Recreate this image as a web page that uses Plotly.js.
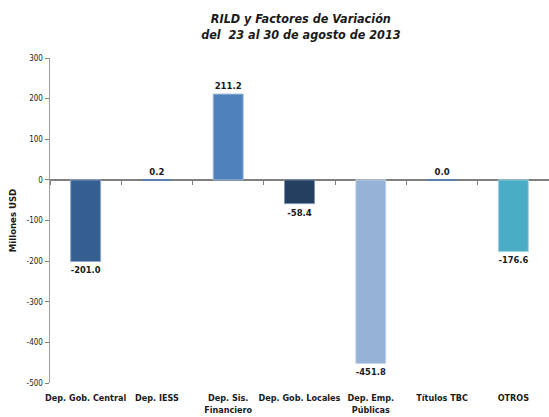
<!DOCTYPE html>
<html>
<head>
<meta charset="utf-8">
<script src="https://cdn.plot.ly/plotly-3.0.1.min.js"></script>
<style>html,body{margin:0;padding:0;background:#fff;}#chart{width:549px;height:417px;}</style>
</head>
<body>
<div id="chart"></div>
<script>
const categories = ["Dep. Gob. Central", "Dep. IESS", "Dep. Sis.<br>Financiero", "Dep. Gob. Locales", "Dep. Emp.<br>Públicas", "Títulos TBC", "OTROS"];
const values = [-201.0, 0.2, 211.2, -58.4, -451.8, 0.0, -176.6];
const valueLabels = ["-201.0", "0.2", "211.2", "-58.4", "-451.8", "0.0", "-176.6"];
const barColors = ["#365F91", "#4F81BD", "#4F81BD", "#243F60", "#95B3D7", "#4F81BD", "#4BACC6"];
const edgeColors = ["#8EA6C8", "#4F81BD", "#9DB8DC", "#7F93AE", "#C6D6EA", "#4F81BD", "#A4D4E2"];
const yTicks = [-500, -400, -300, -200, -100, 0, 100, 200, 300];

const fontFam = '"DejaVu Sans Condensed", "Liberation Sans Narrow", sans-serif';

const traces = [
  {
    type: "bar",
    x: categories,
    y: values,
    text: valueLabels,
    textposition: "outside",
    cliponaxis: false,
    textfont: {family: fontFam, size: 9.5, color: "#1a1a1a", weight: "bold"},
    marker: {color: barColors, line: {color: edgeColors, width: 1}},
    width: 0.42,
    hoverinfo: "skip",
    showlegend: false
  },
  {
    type: "scatter",
    mode: "markers",
    x: categories,
    y: values.map(() => null),
    xaxis: "x2",
    hoverinfo: "skip",
    showlegend: false
  }
];

const layout = {
  width: 549,
  height: 417,
  margin: {l: 50, r: 0, t: 58, b: 34},
  paper_bgcolor: "#ffffff",
  plot_bgcolor: "#ffffff",
  font: {family: fontFam, color: "#1a1a1a"},
  title: {
    text: "<b><i>RILD y Factores de Variación<br>del  23 al 30 de agosto de 2013</i></b>",
    x: 0.548, xanchor: "center", y: 0.945, yanchor: "top",
    font: {family: fontFam, size: 12.5, color: "#1a1a1a"}
  },
  xaxis: {
    type: "category",
    range: [-0.5, 6.5],
    showline: false,
    ticks: "",
    showgrid: false,
    zeroline: false,
    tickangle: 0,
    tickfont: {family: fontFam, size: 9, color: "#1a1a1a", weight: "bold"},
    ticklabelstandoff: 8
  },
  xaxis2: {
    type: "category",
    overlaying: "x",
    anchor: "free",
    position: 0.625,
    range: [-0.5, 6.5],
    showticklabels: false,
    tickson: "boundaries",
    ticks: "outside",
    ticklen: 4,
    tickcolor: "#808080",
    showline: false,
    showgrid: false,
    zeroline: false
  },
  yaxis: {
    range: [-500, 300],
    tickvals: yTicks,
    ticktext: yTicks.map(String),
    showline: true,
    linecolor: "#a0a0a0",
    linewidth: 1.5,
    ticks: "outside",
    ticklen: 4,
    tickcolor: "#808080",
    showgrid: false,
    zeroline: true,
    zerolinecolor: "#808080",
    zerolinewidth: 1.5,
    tickfont: {family: fontFam, size: 8, color: "#222222"},
    title: {text: "<b>Millones USD</b>", standoff: 8, font: {family: fontFam, size: 9.5, color: "#1a1a1a"}}
  },
  bargap: 0.58
};

Plotly.newPlot("chart", traces, layout, {displayModeBar: false, staticPlot: true});
</script>
</body>
</html>
